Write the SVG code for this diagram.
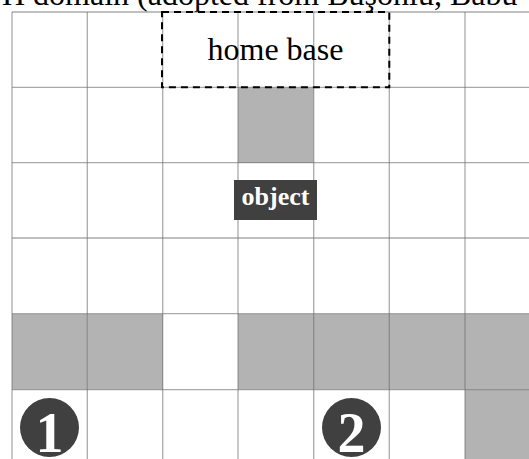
<svg xmlns="http://www.w3.org/2000/svg" width="529" height="459" viewBox="0 0 529 459">
  <style>
    .cell { fill: #b3b3b3; }
    .grid { stroke: #6c6c6c; stroke-opacity: 0.58; stroke-width: 1.3; fill: none; }
    .serif { font-family: "Liberation Serif", "Times New Roman", serif; }
    .dark { fill: #404040; }
    .white { fill: #ffffff; }
    .num { font-size: 56px; font-weight: bold; text-anchor: middle; }
  </style>
  <rect x="0" y="0" width="529" height="459" fill="#ffffff"/>
  <text class="serif" x="2" y="5" font-size="32" fill="#000">H domain (adopted from Buşoniu, Babu</text>
  <g id="cells">
    <rect class="cell" x="238" y="87.5" width="75.5" height="75.5"/>
    <rect class="cell" x="12" y="314" width="75.5" height="75.5"/>
    <rect class="cell" x="87.5" y="314" width="75.5" height="75.5"/>
    <rect class="cell" x="238" y="314" width="300" height="75.5"/>
    <rect class="cell" x="465" y="389.5" width="75.5" height="75.5"/>
  </g>
  <g id="grid" class="grid">
    <line x1="12" y1="12" x2="12" y2="465"/>
    <line x1="87.3" y1="12" x2="87.3" y2="465"/>
    <line x1="162.7" y1="12" x2="162.7" y2="465"/>
    <line x1="238" y1="12" x2="238" y2="465"/>
    <line x1="313.7" y1="12" x2="313.7" y2="465"/>
    <line x1="389.3" y1="12" x2="389.3" y2="465"/>
    <line x1="465" y1="12" x2="465" y2="465"/>
    <line x1="12" y1="12" x2="540" y2="12"/>
    <line x1="12" y1="87.3" x2="540" y2="87.3"/>
    <line x1="12" y1="162.7" x2="540" y2="162.7"/>
    <line x1="12" y1="238" x2="540" y2="238"/>
    <line x1="12" y1="313.7" x2="540" y2="313.7"/>
    <line x1="12" y1="389.7" x2="540" y2="389.7"/>
  </g>
  <g id="connectors"></g>
  <g id="home-base">
    <rect x="162" y="12" width="227.3" height="75.3" fill="none" stroke="#000" stroke-width="2" stroke-dasharray="7 5"/>
    <text class="serif" x="275.5" y="60" font-size="32" text-anchor="middle" fill="#000">home base</text>
  </g>
  <g id="object">
    <rect class="dark" x="234" y="180" width="83" height="40"/>
    <text class="serif white" x="275.5" y="205" font-size="26" font-weight="bold" text-anchor="middle">object</text>
  </g>
  <g id="start-1">
    <circle class="dark" cx="49.5" cy="427.5" r="29.5"/>
    <text class="serif white num" x="49.5" y="452">1</text>
  </g>
  <g id="start-2">
    <circle class="dark" cx="351.5" cy="427.5" r="29.5"/>
    <text class="serif white num" x="351.5" y="452">2</text>
  </g>
</svg>
